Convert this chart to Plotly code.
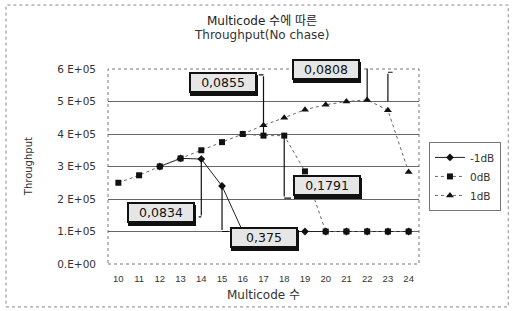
import plotly.graph_objects as go

# ---- data ----
multicode = [10, 11, 12, 13, 14, 15, 16, 17, 18, 19, 20, 21, 22, 23, 24]
tp_m1dB = [None, None, 3.0e5, 3.25e5, 3.23e5, 2.4e5, 1.0e5, 1.0e5, 1.0e5, 1.0e5, 1.0e5, 1.0e5, 1.0e5, 1.0e5, 1.0e5]
tp_0dB = [2.5e5, 2.73e5, 3.0e5, 3.25e5, 3.5e5, 3.75e5, 4.0e5, 3.95e5, 3.95e5, 2.85e5, 1.0e5, 1.0e5, 1.0e5, 1.0e5, 1.0e5]
tp_1dB = [None, None, None, None, None, None, 4.0e5, 4.27e5, 4.5e5, 4.75e5, 4.9e5, 5.0e5, 5.05e5, 4.73e5, 2.83e5]
series_names = ["-1dB", "0dB", "1dB"]
ytick_vals = [0, 1e5, 2e5, 3e5, 4e5, 5e5, 6e5]
ytick_text = ["0.E+00", "1.E+05", "2 E+05", "3 E+05", "4 E+05", "5 E+05", "6 E+05"]
title_lines = ["Multicode 수에 따른", "Throughput(No chase)"]

# callout labels: text, box centre, leader line
callout_text = ["0,0855", "0,0808", "0,1791", "0,0834", "0,375", "0,1791"]
callout_x = [15.04, 20.01, 24.88, 12.08, 17.0, 20.06]
callout_y = [5.6e5, 6.0e5, 5.75e5, 1.57e5, 0.83e5, 2.43e5]
leader_x = [17, 22, 23, 14, 15, 18]
leader_y_from = [5.82e5, 6.06e5, 5.9e5, 1.45e5, 1.0e5, 2.03e5]
leader_y_to = [3.95e5, 5.05e5, 5.0e5, 3.23e5, 2.4e5, 3.95e5]
elbow_x = [16.7, 21.7, 23.3, 13.8, 15.4, 18.4]

FONT = "DejaVu Sans, Noto Sans CJK KR, sans-serif"
FONT2 = "Liberation Sans, Noto Sans CJK KR, sans-serif"

fig = go.Figure()
fig.add_trace(go.Scatter(x=multicode, y=tp_m1dB, name=series_names[0], mode="lines+markers",
                         line=dict(color="#222", width=1),
                         marker=dict(symbol="diamond", size=6, color="#111")))
fig.add_trace(go.Scatter(x=multicode, y=tp_0dB, name=series_names[1], mode="lines+markers",
                         line=dict(color="#666", width=1, dash="dot"),
                         marker=dict(symbol="square", size=6, color="#111")))
fig.add_trace(go.Scatter(x=multicode, y=tp_1dB, name=series_names[2], mode="lines+markers",
                         line=dict(color="#666", width=1, dash="dot"),
                         marker=dict(symbol="triangle-up", size=7, color="#111")))

annotations = []
# leader lines
for lx, y0, y1, ex in zip(leader_x, leader_y_from, leader_y_to, elbow_x):
    annotations.append(dict(x=lx, y=y1, ax=lx, ay=y0, xref="x", yref="y", axref="x", ayref="y",
                            text="", showarrow=True, arrowhead=0, arrowwidth=1.2, arrowcolor="#111",
                            standoff=0, startstandoff=0))
    annotations.append(dict(x=lx, y=y0, ax=ex, ay=y0, xref="x", yref="y", axref="x", ayref="y",
                            text="", showarrow=True, arrowhead=0, arrowwidth=1.2, arrowcolor="#111",
                            standoff=0, startstandoff=0))
# callout boxes with shadow
for t, cx, cy in zip(callout_text, callout_x, callout_y):
    annotations.append(dict(x=cx, y=cy, xref="x", yref="y", text=" ", showarrow=False,
                            width=62, height=15, bgcolor="#111", borderwidth=2, bordercolor="#111",
                            borderpad=1, xshift=1, yshift=-3))
    annotations.append(dict(x=cx, y=cy, xref="x", yref="y", text=t, showarrow=False,
                            width=62, height=15, bgcolor="#e6e6e6", borderwidth=2, bordercolor="#111",
                            borderpad=1, font=dict(family=FONT, size=12.5, color="#111")))
# title lines
annotations.append(dict(x=0.494, y=1.246, xref="paper", yref="paper", text=title_lines[0],
                        xanchor="center", yanchor="middle",
                        showarrow=False, font=dict(family=FONT, size=12, color="#222")))
annotations.append(dict(x=0.494, y=1.174, xref="paper", yref="paper", text=title_lines[1],
                        xanchor="center", yanchor="middle",
                        showarrow=False, font=dict(family=FONT, size=12, color="#333")))
# y axis title
annotations.append(dict(x=-0.255, y=0.5, xref="paper", yref="paper", text="Throughput", textangle=-90,
                        xanchor="center", yanchor="middle",
                        showarrow=False, font=dict(family=FONT, size=10, color="#333")))

shapes = [
    dict(type="rect", xref="paper", yref="paper", x0=0, x1=1, y0=0, y1=1,
         line=dict(color="#777", width=1, dash="dot"), layer="below"),
    dict(type="rect", xref="paper", yref="paper", x0=-0.328, x1=1.287, y0=-0.22, y1=1.328,
         line=dict(color="#888", width=1, dash="dot")),
]

fig.update_layout(
    width=513, height=311,
    margin=dict(l=108, r=91, t=69, b=47),
    paper_bgcolor="white", plot_bgcolor="white",
    xaxis=dict(range=[9.5, 24.5], tickmode="array", tickvals=multicode, ticktext=[str(v) for v in multicode],
               showgrid=False, zeroline=False, showline=False, ticklabelstandoff=7,
               tickfont=dict(family=FONT2, size=9.5, color="#333"),
               title=dict(text="Multicode 수", font=dict(family=FONT, size=12, color="#333"), standoff=8)),
    yaxis=dict(range=[0, 6e5], tickmode="array", tickvals=ytick_vals, ticktext=ytick_text,
               showgrid=True, gridcolor="#666", gridwidth=1, zeroline=False, showline=False,
               tickfont=dict(family=FONT, size=10.5, color="#333"), ticks="", ticklabelstandoff=11),
    legend=dict(x=1.032, y=0.626, xanchor="left", yanchor="top", bordercolor="#777", borderwidth=1,
                font=dict(family=FONT, size=10.5, color="#333"), bgcolor="white", tracegroupgap=0,
                itemwidth=30),
    annotations=annotations,
    shapes=shapes,
    showlegend=True,
)

fig.write_html("out.html", config={"displayModeBar": False},
               post_script="document.body.style.margin='0px';")
